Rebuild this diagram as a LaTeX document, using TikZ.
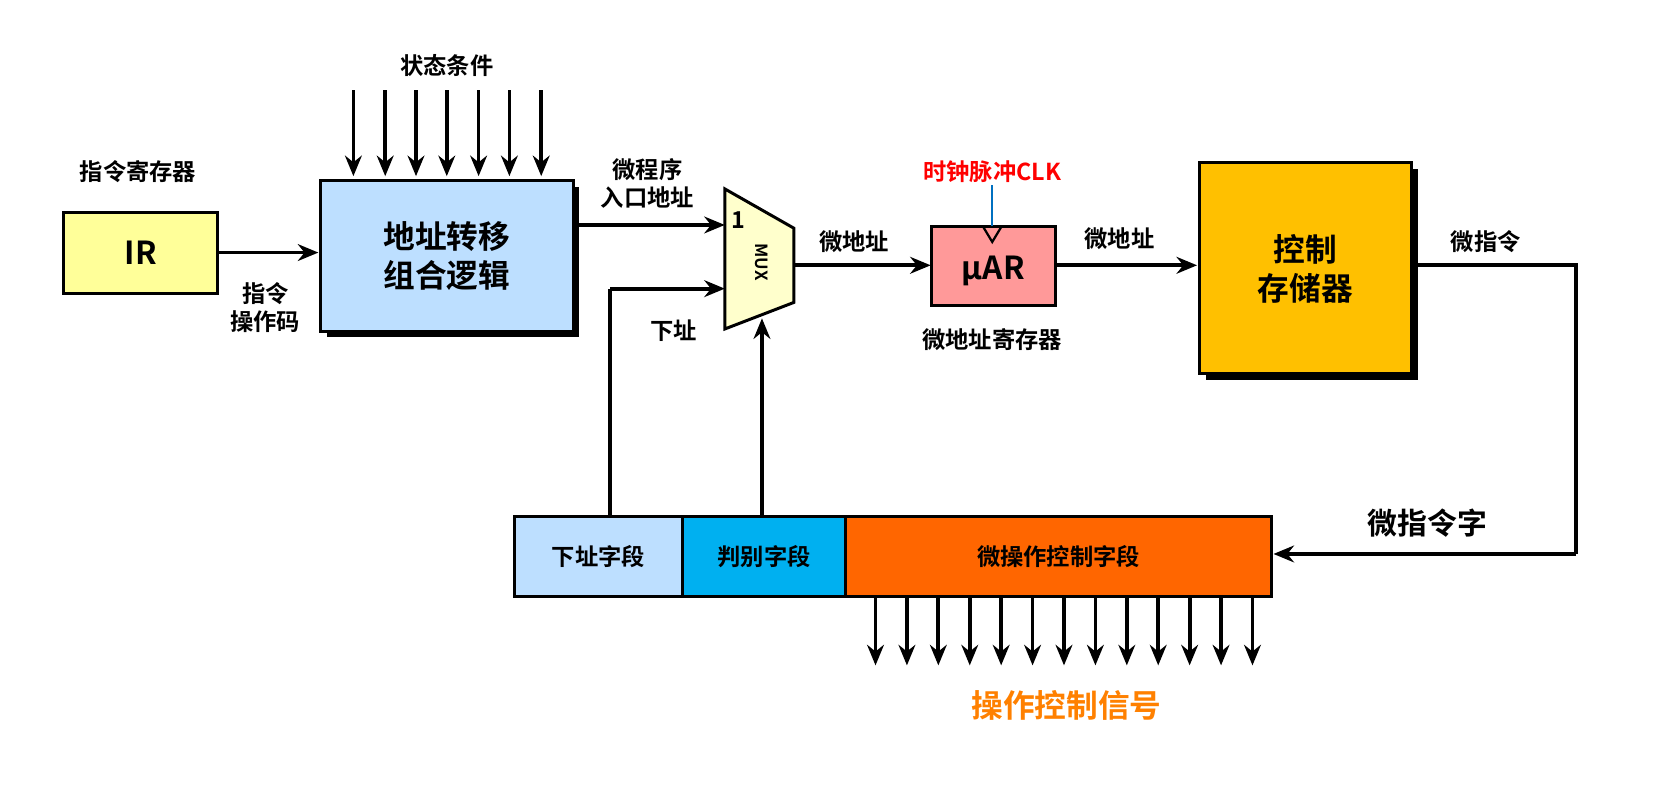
\documentclass[tikz,border=0pt]{standalone}
\usepackage{fontspec}
\setmainfont{Noto Sans CJK SC}[BoldFont={Noto Sans CJK SC Bold}]
\definecolor{iryellow}{RGB}{255,255,153}
\definecolor{logicblue}{RGB}{189,223,255}
\definecolor{muxyellow}{RGB}{255,255,204}
\definecolor{marpink}{RGB}{255,153,153}
\definecolor{storeorange}{RGB}{255,192,0}
\definecolor{fieldcyan}{RGB}{0,176,240}
\definecolor{fieldred}{RGB}{255,102,0}
\definecolor{sigorange}{RGB}{255,128,0}
\usetikzlibrary{arrows.meta}

\begin{document}
\begin{tikzpicture}[x=0.02cm,y=-0.02cm,font=\bfseries\fontsize{12.5}{15}\selectfont]

%
% Styles
%
\tikzset{
  block/.style  = {draw,line width=1.6pt,inner sep=0pt},
  shadow/.style = {fill=black},
  edge/.style   = {line width=2pt,-{Stealth[length=11pt,width=9pt]}},
  wire/.style   = {line width=2pt},
  big/.style    = {font=\bfseries\fontsize{17}{21}\selectfont,align=center},
  lbl/.style    = {align=center,inner sep=1pt}
}

\useasboundingbox (0,0) rectangle (1568,746);

% instruction register
\node[lbl] (irlbl) at (130,162) {指令寄存器};
\draw[block,fill=iryellow] (60,200) rectangle (205,277);
\node[big] (ir) at (132.5,238.5) {IR};
\coordinate (irE) at (205,238);

% address logic
\fill[shadow] (308,176) rectangle (546,318);
\draw[block,fill=logicblue] (302,170) rectangle (540,312);
\node[big] (logic) at (421,241) {地址转移\\组合逻辑};
\coordinate (logicW) at (300,238);
\node[lbl] (cond) at (421,62) {状态条件};
\foreach \x in {333,363,392,421,451,480,510}
  \draw[edge] (\x,85) -- (\x,166);

\draw[edge] (irE) -- (logicW);
\node[lbl] (op) at (250,290) {指令\\操作码};

% MUX
\draw[block,fill=muxyellow] (683,178) -- (748,215) -- (748,285) -- (683,310) -- cycle;
\node (one) at (696,207) {1};
\node[rotate=-90,font=\bfseries\fontsize{9}{10}\selectfont] (mux) at (718,247) {MUX};
\coordinate (muxA) at (683,212);
\coordinate (muxB) at (683,272);
\coordinate (muxS) at (718,300);
\coordinate (muxO) at (748,250);
\coordinate (logicE) at (540,212);
\draw[edge] (logicE) -- (muxA);
\node[lbl] (entry) at (610,173) {微程序\\入口地址};

% micro address register
\draw[block,fill=marpink] (878,213) rectangle (995,288);
\draw[line width=1.2pt] (926,213) -- (935,228) -- (944,213);
\node[big] (mar) at (936,255) {μAR};
\node[lbl,text=red] (clk) at (935,162) {时钟脉冲CLK};
\draw[line width=1.2pt,draw={rgb,255:red,0;green,112;blue,192}] (clk.south) -- (935,213);
\node[lbl] (marlbl) at (935,320) {微地址寄存器};
\draw[edge] (muxO) -- (877,250);
\node[lbl] (ua1) at (805,228) {微地址};

% control store
\fill[shadow] (1136,159) rectangle (1336,358);
\draw[block,fill=storeorange] (1130,153) rectangle (1330,352);
\node[big] (store) at (1230,253) {控制\\存储器};
\draw[edge] (995,250) -- (1128,250);
\node[lbl] (ua2) at (1055,225) {微地址};

% micro instruction register
\draw[block,fill=logicblue] (485,487) rectangle (643,562);
\draw[block,fill=fieldcyan] (643,487) rectangle (797,562);
\draw[block,fill=fieldred] (797,487) rectangle (1198,562);
\node (fNext) at (564,524.5) {下址字段};
\node (fTest) at (720,524.5) {判别字段};
\node (fOp) at (997.5,524.5) {微操作控制字段};

\draw[wire] (1330,250) -- (1485,250) -- (1485,522);
\draw[edge] (1485,522) -- (1200,522);
\node[lbl] (uiw) at (1400,228) {微指令};
\node[lbl,font=\bfseries\fontsize{16}{19}\selectfont] (word) at (1345,493) {微指令字};

\draw[wire] (575,487) -- (575,272);
\draw[edge] (575,272) -- (muxB);
\node[lbl] (next) at (635,312) {下址};
\draw[edge] (718,487) -- (muxS);

\foreach \i in {0,...,12}
  \draw[edge] ({825+29.6*\i},562) -- ({825+29.6*\i},627);
\node[lbl,text=sigorange,font=\bfseries\fontsize{17}{21}\selectfont] (sig) at (1005,665) {操作控制信号};

\end{tikzpicture}
\end{document}
